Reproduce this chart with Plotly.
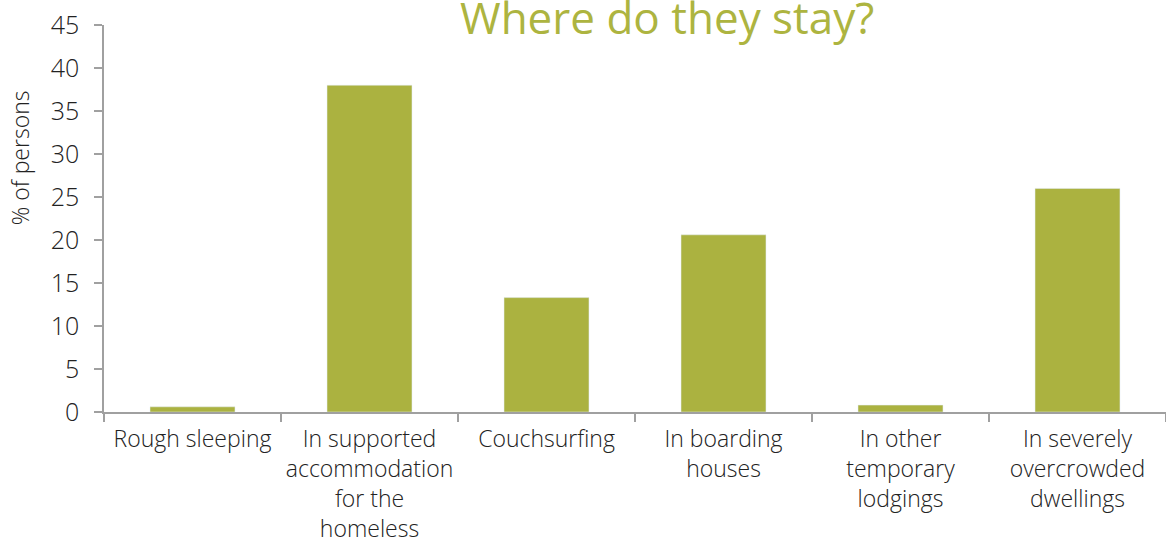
import plotly.graph_objects as go

categories = ["Rough sleeping", "In supported<br>accommodation<br>for the<br>homeless", "Couchsurfing",
              "In boarding<br>houses", "In other<br>temporary<br>lodgings", "In severely<br>overcrowded<br>dwellings"]
values = [0.6, 38.0, 13.3, 20.6, 0.8, 26.0]
y_ticks = [0, 5, 10, 15, 20, 25, 30, 35, 40, 45]

bar_color = "#ABB240"
font_family = "'Open Sans', Lato, sans-serif"

fig = go.Figure(go.Bar(x=categories, y=values, marker_color=bar_color, width=0.48))

fig.update_layout(
    width=1166, height=541,
    margin=dict(l=104, r=0, t=25, b=129),
    paper_bgcolor="white", plot_bgcolor="white",
    font=dict(family=font_family, color="#222222", weight=300),
    showlegend=False,
    bargap=0.52,
)
fig.update_xaxes(
    automargin=False, tickangle=0,
    showline=True, linecolor="#A0A0A0", linewidth=1.5,
    ticks="outside", tickson="boundaries", ticklen=8, tickcolor="#A0A0A0", tickwidth=1.5,
    tickfont=dict(size=23, color="#222222", weight=300), showgrid=False,
    ticklabelstandoff=6, ticklabeloverflow="allow",
)
fig.update_yaxes(
    automargin=False,
    range=[0, 45], tickvals=y_ticks, showline=True, linecolor="#A0A0A0", linewidth=1.5,
    ticks="outside", ticklen=8, tickcolor="#A0A0A0", tickwidth=1.5,
    tickfont=dict(size=25, color="#222222", weight=300), showgrid=False, zeroline=False,
    ticklabelstandoff=10, ticklabeloverflow="allow",
)
fig.add_annotation(text="% of persons", xref="paper", yref="paper", x=-0.079, y=0.656,
                   textangle=-90, showarrow=False, font=dict(size=23, color="#222222", weight=300),
                   xanchor="center", yanchor="middle")
fig.add_annotation(text="Where do they stay?", xref="paper", yref="paper", x=0.530, y=1.0,
                   yshift=8, showarrow=False, font=dict(size=44, color="#ADB440", weight=400),
                   xanchor="center", yanchor="middle")

fig.write_html("out.html", config={"displayModeBar": False},
               post_script="document.body.style.margin='0';document.body.style.overflow='hidden';")
